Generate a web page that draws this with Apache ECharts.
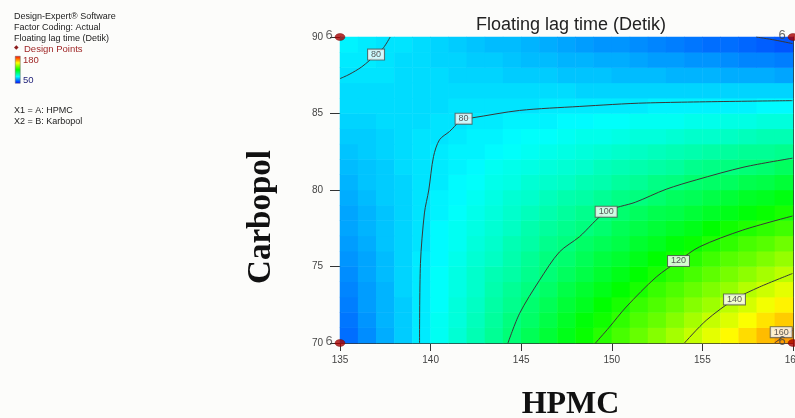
<!DOCTYPE html>
<html>
<head>
<meta charset="utf-8">
<script src="https://cdn.jsdelivr.net/npm/echarts@6.0.0/dist/echarts.min.js"></script>
<style>
  html, body { margin: 0; padding: 0; background: #fcfcfa; }
  #chart { width: 795px; height: 418px; }
</style>
</head>
<body>
<div id="chart"></div>
<script>
// cell centres of the response grid (HPMC across, Carbopol up)
var hpmcCells = [135.5, 136.5, 137.5, 138.5, 139.5, 140.5, 141.5, 142.5, 143.5, 144.5, 145.5, 146.5, 147.5,
  148.5, 149.5, 150.5, 151.5, 152.5, 153.5, 154.5, 155.5, 156.5, 157.5, 158.5, 159.5];
var carbopolCells = [70.5, 71.5, 72.5, 73.5, 74.5, 75.5, 76.5, 77.5, 78.5, 79.5,
  80.5, 81.5, 82.5, 83.5, 84.5, 85.5, 86.5, 87.5, 88.5, 89.5];

// floating lag time, one row per Carbopol cell (bottom -> top)
var lagTime = [
  [64, 68, 72, 76, 80, 84, 88, 92, 96, 100, 104, 108, 112, 116, 120, 124, 128, 132, 136, 140, 144, 148, 152, 156, 160],
  [65, 69, 73, 76, 80, 84, 87, 91, 95, 99, 102, 106, 110, 114, 117, 121, 125, 128, 132, 136, 140, 143, 147, 151, 154],
  [66, 70, 73, 76, 80, 83, 87, 90, 94, 97, 101, 104, 108, 111, 115, 118, 122, 125, 128, 132, 135, 139, 142, 146, 149],
  [67, 70, 73, 77, 80, 83, 86, 89, 93, 96, 99, 102, 106, 109, 112, 115, 118, 122, 125, 128, 131, 134, 138, 141, 144],
  [68, 71, 74, 77, 80, 83, 86, 89, 92, 94, 97, 100, 103, 106, 109, 112, 115, 118, 121, 124, 127, 130, 133, 136, 139],
  [69, 71, 74, 77, 80, 82, 85, 88, 90, 93, 96, 99, 101, 104, 107, 109, 112, 115, 117, 120, 123, 126, 128, 131, 134],
  [70, 72, 75, 77, 79, 82, 84, 87, 89, 92, 94, 97, 99, 102, 104, 106, 109, 111, 114, 116, 119, 121, 124, 126, 129],
  [71, 73, 75, 77, 79, 82, 84, 86, 88, 90, 93, 95, 97, 99, 101, 104, 106, 108, 110, 112, 115, 117, 119, 121, 123],
  [71, 73, 75, 77, 79, 81, 83, 85, 87, 89, 91, 93, 95, 97, 99, 101, 103, 105, 106, 108, 110, 112, 114, 116, 118],
  [72, 74, 76, 77, 79, 81, 82, 84, 86, 88, 89, 91, 93, 94, 96, 98, 99, 101, 103, 104, 106, 108, 110, 111, 113],
  [73, 75, 76, 77, 79, 80, 82, 83, 85, 86, 88, 89, 90, 92, 93, 95, 96, 98, 99, 101, 102, 103, 105, 106, 108],
  [74, 75, 76, 78, 79, 80, 81, 82, 84, 85, 86, 87, 88, 89, 91, 92, 93, 94, 95, 97, 98, 99, 100, 101, 103],
  [75, 76, 77, 78, 79, 80, 81, 81, 82, 83, 84, 85, 86, 87, 88, 89, 90, 91, 92, 93, 94, 95, 96, 96, 97],
  [76, 76, 77, 78, 79, 79, 80, 81, 81, 82, 83, 83, 84, 85, 85, 86, 87, 87, 88, 89, 89, 90, 91, 92, 92],
  [77, 77, 78, 78, 78, 79, 79, 80, 80, 81, 81, 81, 82, 82, 83, 83, 84, 84, 84, 85, 85, 86, 86, 87, 87],
  [78, 78, 78, 78, 78, 78, 79, 79, 79, 79, 79, 80, 80, 80, 80, 80, 80, 81, 81, 81, 81, 81, 81, 82, 82],
  [78, 78, 78, 78, 78, 78, 78, 78, 78, 78, 78, 78, 78, 77, 77, 77, 77, 77, 77, 77, 77, 77, 77, 77, 77],
  [79, 79, 79, 78, 78, 78, 77, 77, 77, 76, 76, 76, 75, 75, 75, 74, 74, 74, 73, 73, 73, 72, 72, 72, 71],
  [80, 80, 79, 78, 78, 77, 77, 76, 76, 75, 74, 74, 73, 73, 72, 72, 71, 70, 70, 69, 69, 68, 67, 67, 66],
  [81, 80, 79, 79, 78, 77, 76, 75, 74, 74, 73, 72, 71, 70, 69, 69, 68, 67, 66, 65, 64, 64, 63, 62, 61]
];

// contour lines [HPMC, Carbopol]
var contour60 = [[157.97, 90], [159.0, 89.8], [159.97, 89.57]];
var contour80a = [[137.77, 90], [137.4, 89.3], [136.99, 88.85], [136.2, 88.05], [135.5, 87.55], [135, 87.28]];
var contour80b = [[139.39, 70], [139.44, 75.2], [139.66, 78.5], [139.9, 80], [140.16, 82.18], [140.49, 83.28],
  [141.04, 83.82], [141.82, 84.66], [142.31, 84.72], [144.91, 85.2], [148.2, 85.46], [151.9, 85.69], [159.97, 85.84]];
var contour100 = [[144.27, 70], [144.91, 71.93], [146.01, 74.1], [147.11, 75.95], [148.21, 76.94], [149.69, 78.58],
  [151.3, 79.2], [153.0, 80.05], [154.66, 80.66], [157.3, 81.5], [159.97, 82.08]];
var contour120 = [[149.1, 70], [149.84, 71.0], [150.79, 72.35], [152.45, 74.31], [153.68, 75.36], [154.83, 76.28],
  [157.23, 77.38], [159.97, 78.3]];
var contour140 = [[154.01, 70], [155.21, 71.48], [156.77, 72.85], [158.15, 73.66], [159.97, 74.54]];
var contour160 = [[158.98, 70], [159.45, 70.4], [159.97, 70.82]];

var contourLabels = [[136.99, 88.85, '80'], [141.82, 84.66, '80'], [149.69, 78.58, '100'],
  [153.68, 75.36, '120'], [156.77, 72.85, '140'], [159.35, 70.71, '160']];

// design points (6 replicates at each corner)
var designPoints = [[135, 90, 6], [160, 90, 6], [135, 70, 6], [160, 70, 6]];

var heatData = [];
lagTime.forEach(function (row, j) {
  row.forEach(function (v, i) { heatData.push([i, j, v]); });
});

var font = 'Liberation Sans, Arial, sans-serif';
var serif = 'Liberation Serif, Times New Roman, serif';
var plot = { left: 340, right: 2, top: 37, bottom: 75, containLabel: false, outerBoundsMode: 'none' };

function contour(data) {
  return {
    type: 'line', xAxisIndex: 1, yAxisIndex: 1, data: data,
    symbol: 'none', smooth: 0.3, silent: true, z: 3,
    lineStyle: { color: '#383838', width: 1 }
  };
}

var chart = echarts.init(document.getElementById('chart'));
chart.setOption({
  backgroundColor: '#fcfcfa',
  animation: false,
  title: {
    text: 'Floating lag time (Detik)',
    left: 566, top: 11, textAlign: 'center',
    textStyle: { fontFamily: font, fontSize: 18, fontWeight: 'normal', color: '#222' }
  },
  grid: [plot, plot],
  visualMap: {
    show: false, type: 'continuous', min: 50, max: 180, seriesIndex: 0,
    inRange: { color: ['#0000ff', '#00ffff', '#00ff00', '#ffff00', '#ff0000'] }
  },
  xAxis: [
    { type: 'category', gridIndex: 0, data: hpmcCells, show: false },
    {
      type: 'value', gridIndex: 1, min: 135, max: 160, interval: 5,
      name: 'HPMC', nameLocation: 'middle', nameGap: 46,
      nameTextStyle: { fontFamily: serif, fontWeight: 'bold', fontSize: 32, color: '#111', padding: [0, 0, 0, 8] },
      axisLine: { lineStyle: { color: '#333' } },
      axisTick: { length: 8, lineStyle: { color: '#333' } },
      axisLabel: { fontFamily: font, fontSize: 10, color: '#444', margin: 12 },
      splitLine: { show: false }
    },
    {
      type: 'value', gridIndex: 1, position: 'top', min: 135, max: 160,
      axisLine: { lineStyle: { color: '#333' } },
      axisTick: { show: false }, axisLabel: { show: false }, splitLine: { show: false }
    }
  ],
  yAxis: [
    { type: 'category', gridIndex: 0, data: carbopolCells, show: false },
    {
      type: 'value', gridIndex: 1, min: 70, max: 90, interval: 5,
      name: 'Carbopol', nameLocation: 'middle', nameGap: 62,
      nameTextStyle: { fontFamily: serif, fontWeight: 'bold', fontSize: 33, color: '#111', padding: [0, 54, 0, 0] },
      axisLine: { lineStyle: { color: '#333' } },
      axisTick: { length: 10, lineStyle: { color: '#333' } },
      axisLabel: { fontFamily: font, fontSize: 10, color: '#444', margin: 17 },
      splitLine: { show: false }
    },
    {
      type: 'value', gridIndex: 1, position: 'right', min: 70, max: 90,
      axisLine: { lineStyle: { color: '#333' } },
      axisTick: { show: false }, axisLabel: { show: false }, splitLine: { show: false }
    }
  ],
  series: [
    {
      type: 'heatmap', xAxisIndex: 0, yAxisIndex: 0, data: heatData,
      silent: true, itemStyle: { borderWidth: 0 }, z: 1
    },
    contour(contour60),
    contour(contour80a),
    contour(contour80b),
    contour(contour100),
    contour(contour120),
    contour(contour140),
    contour(contour160),
    {
      type: 'scatter', xAxisIndex: 1, yAxisIndex: 1, data: contourLabels,
      symbolSize: 0, silent: true, z: 4,
      label: {
        show: true, position: 'inside', formatter: function (p) { return p.data[2]; },
        fontFamily: font, fontSize: 9, color: '#333',
        backgroundColor: '#fff', borderColor: '#555', borderWidth: 1, padding: [1, 3, 0, 3]
      }
    },
    {
      type: 'scatter', xAxisIndex: 1, yAxisIndex: 1, data: designPoints,
      symbol: 'circle', symbolSize: [10, 7], clip: false, silent: true, z: 5,
      itemStyle: { color: '#a80000', borderColor: '#700000', borderWidth: 0.5 },
      label: {
        show: true, position: 'left', distance: 2, offset: [0, -2],
        formatter: function (p) { return p.data[2]; },
        fontFamily: font, fontSize: 13, color: '#444'
      }
    }
  ],
  graphic: [
    { type: 'text', left: 14, top: 12, style: { text: 'Design-Expert\u00ae Software', font: '9px ' + font, fill: '#222' } },
    { type: 'text', left: 14, top: 23, style: { text: 'Factor Coding: Actual', font: '9px ' + font, fill: '#222' } },
    { type: 'text', left: 14, top: 34, style: { text: 'Floating lag time (Detik)', font: '9px ' + font, fill: '#222' } },
    { type: 'text', left: 14, top: 44, style: { text: '\u25c6', font: '6px ' + font, fill: '#8b1a1a' } },
    { type: 'text', left: 24, top: 44, style: { text: 'Design Points', font: '9.5px ' + font, fill: '#a02828' } },
    {
      type: 'rect', left: 15, top: 56, shape: { width: 5, height: 27 },
      style: {
        fill: new echarts.graphic.LinearGradient(0, 0, 0, 1, [
          { offset: 0, color: '#ff0000' }, { offset: 0.25, color: '#ffff00' }, { offset: 0.5, color: '#00ff00' },
          { offset: 0.75, color: '#00ffff' }, { offset: 1, color: '#0000ff' }
        ]),
        stroke: '#666', lineWidth: 0.5
      }
    },
    { type: 'text', left: 23, top: 55, style: { text: '180', font: '9.5px ' + font, fill: '#a02828' } },
    { type: 'text', left: 23, top: 75, style: { text: '50', font: '9.5px ' + font, fill: '#23237a' } },
    { type: 'text', left: 14, top: 106, style: { text: 'X1 = A: HPMC', font: '9px ' + font, fill: '#222' } },
    { type: 'text', left: 14, top: 117, style: { text: 'X2 = B: Karbopol', font: '9px ' + font, fill: '#222' } }
  ]
});
window.addEventListener('resize', chart.resize);
</script>
</body>
</html>
